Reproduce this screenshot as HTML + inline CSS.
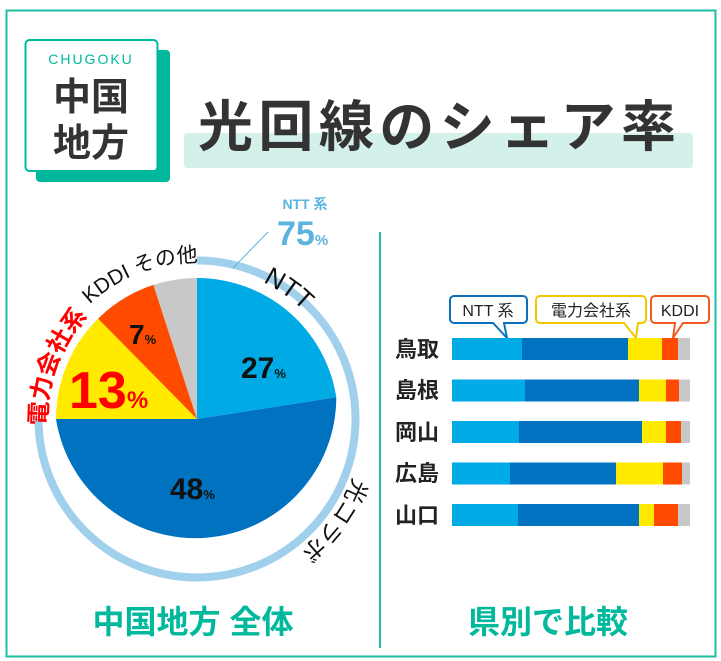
<!DOCTYPE html>
<html><head><meta charset="utf-8"><style>
body{margin:0;background:#fff}
svg{display:block;font-family:"Liberation Sans","Noto Sans CJK JP",sans-serif}
</style></head><body>
<svg width="721" height="661" viewBox="0 0 721 661" xmlns="http://www.w3.org/2000/svg">
<rect x="6.5" y="10.5" width="709" height="646" fill="#fff" stroke="#1dbfa3" stroke-width="2"/>
<rect x="36" y="50" width="134" height="132" rx="4" fill="#00b89c"/>
<rect x="25.5" y="40" width="132" height="131" rx="4" fill="#fff" stroke="#00b89c" stroke-width="2"/>
<text x="91" y="64" font-size="14" fill="#00b89c" text-anchor="middle" letter-spacing="2">CHUGOKU</text>
<text x="91" y="110" font-size="38" fill="#333" text-anchor="middle" font-weight="bold">中国</text>
<text x="91" y="156" font-size="38" fill="#333" text-anchor="middle" font-weight="bold">地方</text>
<rect x="184" y="133" width="509" height="35" rx="3" fill="#d4f0ea"/>
<text x="198" y="146" font-size="55" fill="#333" font-weight="bold" textLength="478" lengthAdjust="spacing">光回線のシェア率</text>
<line x1="380" y1="232" x2="380" y2="648" stroke="#1dbfa3" stroke-width="2"/>
<g>
<path d="M197 419 L197 278 A141 141 0 0 1 336.3 397.3 Z" fill="#00aae4"/>
<path d="M197 419 L336.3 397.3 A141 141 0 0 1 56 419 Z" fill="#0072bf"/>
<path d="M197 419 L56 419 A141 141 0 0 1 98.1 318.6 Z" fill="#ffea00"/>
<path d="M197 419 L98.1 318.6 A141 141 0 0 1 153.4 284.9 Z" fill="#ff4b00"/>
<path d="M197 419 L153.4 284.9 A141 141 0 0 1 197 278 Z" fill="#c8c8c8"/>
</g>
<path d="M197 260.5 A158.5 158.5 0 1 1 38.5 419" fill="none" stroke="#a0d0ec" stroke-width="8"/>
<line x1="233" y1="268" x2="268" y2="232" stroke="#5bb4e0" stroke-width="1"/>
<defs>
<path id="c153" d="M197 267 A152 152 0 1 1 197 571 A152 152 0 1 1 197 267"/>
<path id="c167" d="M197 252 A167 167 0 1 1 197 586 A167 167 0 1 1 197 252"/>
<path id="c150" d="M197 269 A150 150 0 1 1 197 569 A150 150 0 1 1 197 269"/>
<path id="c155" d="M197 262 A157 157 0 1 1 197 576 A157 157 0 1 1 197 262"/>
</defs>
<text font-size="26" fill="#111"><textPath href="#c153" startOffset="68">NTT</textPath></text>
<text font-size="23" fill="#111"><textPath href="#c167" startOffset="322">光コラボ</textPath></text>
<text font-size="24" fill="#f00" font-weight="bold"><textPath href="#c150" startOffset="700">電力会社系</textPath></text>
<text font-size="21" fill="#111"><textPath href="#c155" startOffset="868">KDDI その他</textPath></text>
<text x="305" y="209" font-size="14" fill="#5bb4e0" font-weight="bold" text-anchor="middle">NTT 系</text>
<text x="277" y="245" font-size="34" fill="#5bb4e0" font-weight="bold">75<tspan font-size="15">%</tspan></text>
<text x="241" y="378" font-size="30" font-weight="bold" fill="#111">27<tspan font-size="13">%</tspan></text>
<text x="170" y="499" font-size="30" font-weight="bold" fill="#111">48<tspan font-size="13">%</tspan></text>
<text x="69" y="408" font-size="52" font-weight="bold" fill="#f00">13<tspan font-size="24">%</tspan></text>
<text x="129" y="344" font-size="28" font-weight="bold" fill="#111">7<tspan font-size="13">%</tspan></text>
<text x="193" y="633" font-size="32" font-weight="bold" fill="#00b89c" text-anchor="middle">中国地方 全体</text>
<text x="548" y="633" font-size="32" font-weight="bold" fill="#00b89c" text-anchor="middle">県別で比較</text>
<g font-size="16" fill="#222" text-anchor="middle">
<path d="M450 300 a4 4 0 0 1 4 -4 h69 a4 4 0 0 1 4 4 v19 a4 4 0 0 1 -4 4 h-19 l3 15 l-14 -15 h-39 a4 4 0 0 1 -4 -4 z" fill="#fff" stroke="#0a72bd" stroke-width="2"/>
<text x="488" y="316">NTT 系</text>
<path d="M536 300 a4 4 0 0 1 4 -4 h102 a4 4 0 0 1 4 4 v19 a4 4 0 0 1 -4 4 h-4 l-2 15 l-12 -15 h-84 a4 4 0 0 1 -4 -4 z" fill="#fff" stroke="#f0c800" stroke-width="2"/>
<text x="591" y="316">電力会社系</text>
<path d="M651 300 a4 4 0 0 1 4 -4 h50 a4 4 0 0 1 4 4 v19 a4 4 0 0 1 -4 4 h-22 l-10 15 l2 -15 h-20 a4 4 0 0 1 -4 -4 z" fill="#fff" stroke="#f05a1e" stroke-width="2"/>
<text x="680" y="316">KDDI</text>
</g>
<g font-size="22" fill="#222" font-weight="bold">
<text x="395" y="357">鳥取</text>
<text x="395" y="398">島根</text>
<text x="395" y="440">岡山</text>
<text x="395" y="481">広島</text>
<text x="395" y="523">山口</text>
</g>
<g>
<rect x="452" y="338" width="70" height="22" fill="#00aae4"/><rect x="522" y="338" width="106" height="22" fill="#0072bf"/><rect x="628" y="338" width="34" height="22" fill="#ffea00"/><rect x="662" y="338" width="16" height="22" fill="#ff4b00"/><rect x="678" y="338" width="12" height="22" fill="#c8c8c8"/>
<rect x="452" y="379.5" width="73" height="22" fill="#00aae4"/><rect x="525" y="379.5" width="114" height="22" fill="#0072bf"/><rect x="639" y="379.5" width="27" height="22" fill="#ffea00"/><rect x="666" y="379.5" width="13" height="22" fill="#ff4b00"/><rect x="679" y="379.5" width="11" height="22" fill="#c8c8c8"/>
<rect x="452" y="421" width="67" height="22" fill="#00aae4"/><rect x="519" y="421" width="123" height="22" fill="#0072bf"/><rect x="642" y="421" width="24" height="22" fill="#ffea00"/><rect x="666" y="421" width="15" height="22" fill="#ff4b00"/><rect x="681" y="421" width="9" height="22" fill="#c8c8c8"/>
<rect x="452" y="462.5" width="58" height="22" fill="#00aae4"/><rect x="510" y="462.5" width="106" height="22" fill="#0072bf"/><rect x="616" y="462.5" width="47" height="22" fill="#ffea00"/><rect x="663" y="462.5" width="19" height="22" fill="#ff4b00"/><rect x="682" y="462.5" width="8" height="22" fill="#c8c8c8"/>
<rect x="452" y="504" width="66" height="22" fill="#00aae4"/><rect x="518" y="504" width="121" height="22" fill="#0072bf"/><rect x="639" y="504" width="15" height="22" fill="#ffea00"/><rect x="654" y="504" width="24" height="22" fill="#ff4b00"/><rect x="678" y="504" width="12" height="22" fill="#c8c8c8"/>
</g>
</svg>
</body></html>
